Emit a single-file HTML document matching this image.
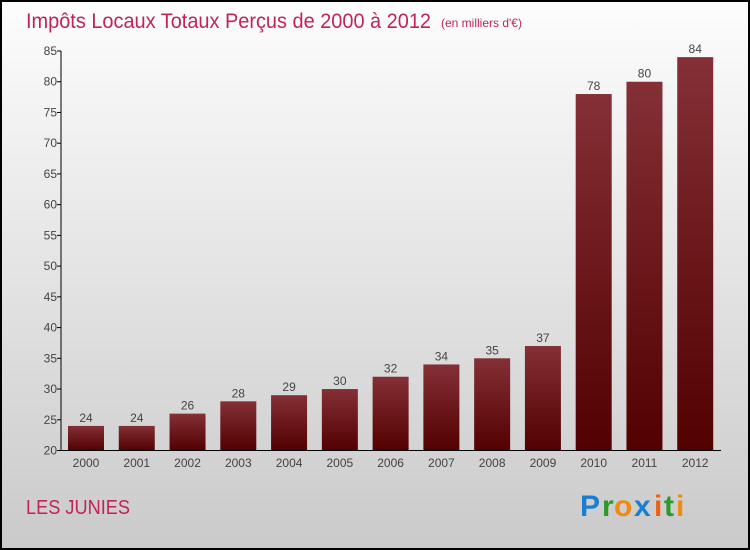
<!DOCTYPE html>
<html><head><meta charset="utf-8"><style>
body{margin:0;width:750px;height:550px;overflow:hidden}
svg{display:block}
text{font-family:"Liberation Sans",sans-serif}
</style></head><body>
<svg width="750" height="550">
<defs>
<linearGradient id="bg" x1="0" y1="0" x2="0" y2="1"><stop offset="0" stop-color="#fdfdfd"/><stop offset="1" stop-color="#cacaca"/></linearGradient>
<linearGradient id="bar" x1="0" y1="0" x2="0" y2="1"><stop offset="0" stop-color="#843036"/><stop offset="1" stop-color="#520000"/></linearGradient>
</defs>
<rect x="1" y="1" width="748" height="548" fill="url(#bg)" stroke="#000" stroke-width="2"/>
<text x="26" y="28" font-size="21" fill="#c0245a" textLength="405" lengthAdjust="spacingAndGlyphs">Impôts Locaux Totaux Perçus de 2000 à 2012</text>
<text x="441" y="27" font-size="12" fill="#c0245a">(en milliers d'€)</text>
<g id="plot"></g>
<text x="26" y="514" font-size="20" fill="#c0245a" textLength="104" lengthAdjust="spacingAndGlyphs">LES JUNIES</text>
<g font-size="30" font-weight="bold">
<text x="580" y="516" fill="#1a7fd0">P</text><text x="602" y="516" fill="#2a9a2a">r</text><text x="614" y="516" fill="#f08a10">o</text><text x="634" y="516" fill="#1a7fd0">x</text><text x="654" y="516" fill="#f06010">i</text><text x="664" y="516" fill="#2a9a2a">t</text><text x="676" y="516" fill="#f08a10">i</text>
</g>
</svg>
<script>
const categories=["2000","2001","2002","2003","2004","2005","2006","2007","2008","2009","2010","2011","2012"];
const values=[24,24,26,28,29,30,32,34,35,37,78,80,84];
const ticks=[20,25,30,35,40,45,50,55,60,65,70,75,80,85];
const NS="http://www.w3.org/2000/svg";
const g=document.getElementById('plot');
const x0=61,x1=721,yb=450.5,yt=51,vmin=20,vmax=85;
const band=(x1-x0)/categories.length;
function y(v){return yb-(v-vmin)/(vmax-vmin)*(yb-yt);}
function xs(i){return x0+i*band;}
function mk(t,a,txt){const e=document.createElementNS(NS,t);for(const k in a)e.setAttribute(k,a[k]);if(txt!=null)e.textContent=txt;g.appendChild(e);return e;}
ticks.forEach(t=>{
 const tl=mk('line',{x1:x0-4,x2:x0,y1:y(t),y2:y(t),stroke:'#000'});
 
 
 const l=mk('text',{x:x0-4,y:y(t)+4,'font-size':12,fill:'#444','text-anchor':'end'},t);
 
 
});
categories.forEach((c,i)=>{
 const bx=xs(i)+7,bw=36;
 const r=mk('rect',{x:bx,y:y(values[i]),width:bw,height:yb-y(values[i]),fill:'url(#bar)'});
 
 
 const v=mk('text',{x:bx+bw/2,y:y(values[i])-4,'font-size':12,fill:'#444','text-anchor':'middle'},values[i]);
 
 
 const xl=mk('text',{x:bx+bw/2,y:467,'font-size':12,fill:'#444','text-anchor':'middle'},c);
 
 
});
const ya=mk('line',{x1:x0,x2:x0,y1:yt,y2:yb,stroke:'#000'});


const xa=mk('line',{x1:x0,x2:x1,y1:yb,y2:yb,stroke:'#000'});


</script>
</body></html>
